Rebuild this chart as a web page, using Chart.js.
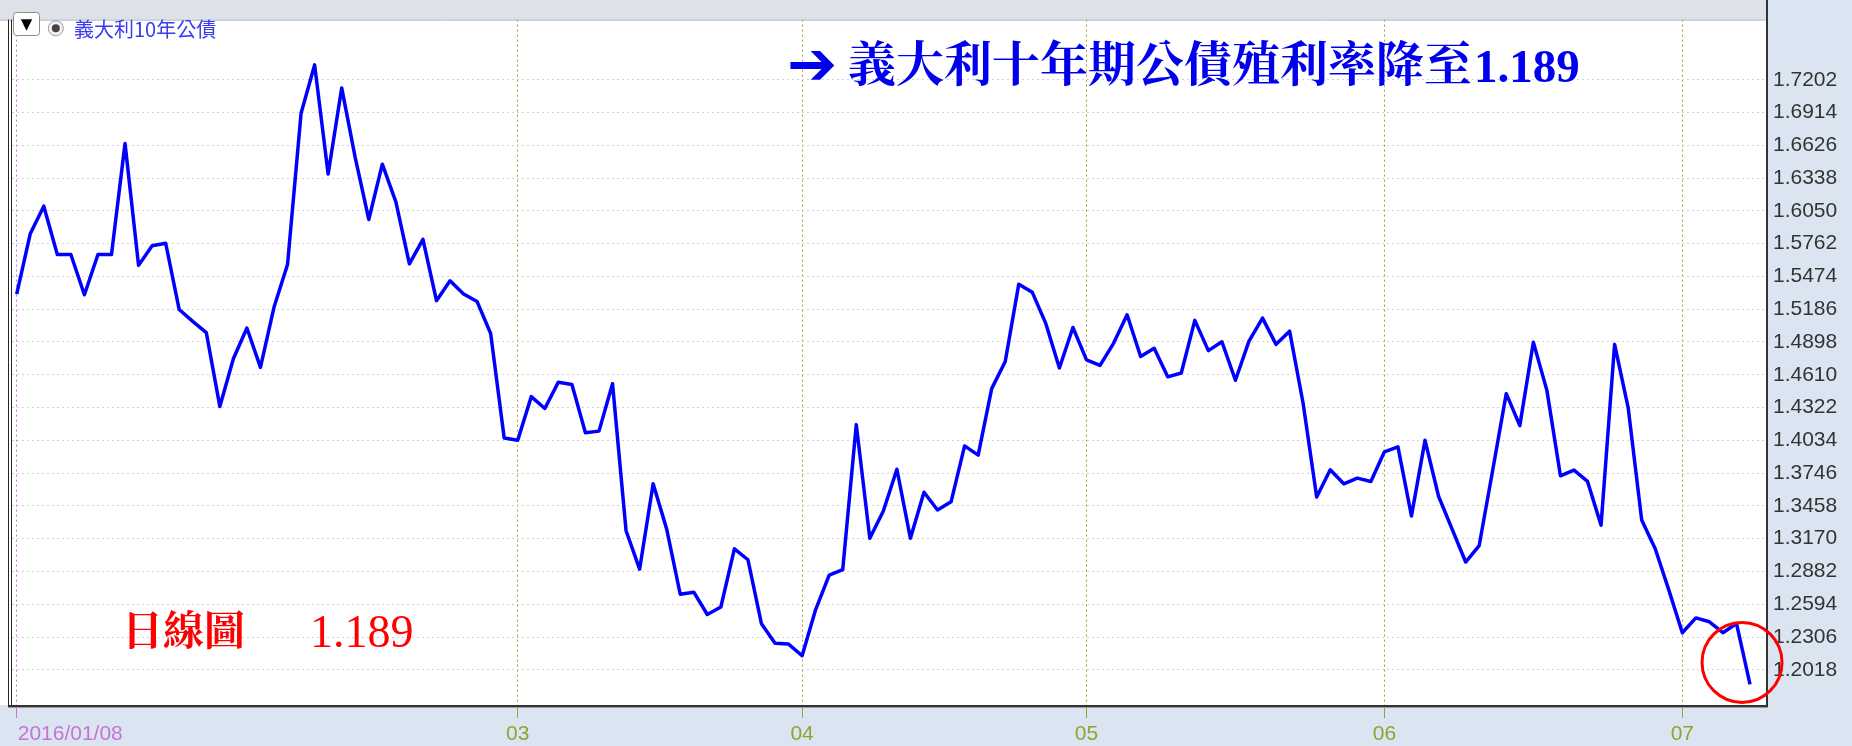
<!DOCTYPE html>
<html>
<head>
<meta charset="utf-8">
<title>義大利10年公債</title>
<script src="https://cdn.jsdelivr.net/npm/chart.js@4.4.1/dist/chart.umd.min.js"></script>
<style>
  html, body { margin: 0; padding: 0; background: #fff; }
  #wrap { width: 1852px; height: 746px; }
</style>
</head>
<body>
<div id="wrap"><canvas id="chart" width="1852" height="746"></canvas></div>
<script>
const seriesName = '義大利10年公債';
const lastYield = 1.189;

// daily closes, 2016/01/08 onwards
const yields = [
  1.5319, 1.5848, 1.6091, 1.5666, 1.5666, 1.5313, 1.5666, 1.5666, 1.6642, 1.5571,
  1.5744, 1.5766, 1.5183, 1.5079, 1.4981, 1.4332, 1.4750, 1.5021, 1.4675, 1.5203,
  1.5579, 1.6907, 1.7332, 1.6373, 1.7130, 1.6518, 1.5974, 1.6460, 1.6128, 1.5584,
  1.5800, 1.5261, 1.5435, 1.5319, 1.5253, 1.4973, 1.4054, 1.4034, 1.4418, 1.4314,
  1.4545, 1.4525, 1.4100, 1.4115, 1.4531, 1.3240, 1.2902, 1.3652, 1.3254, 1.2682,
  1.2700, 1.2504, 1.2570, 1.3081, 1.2985, 1.2422, 1.2252, 1.2244, 1.2142, 1.2547,
  1.2850, 1.2899, 1.4172, 1.3173, 1.3413, 1.3780, 1.3173, 1.3578, 1.3422, 1.3494,
  1.3985, 1.3904, 1.4488, 1.4727, 1.5406, 1.5334, 1.5059, 1.4670, 1.5025, 1.4741,
  1.4692, 1.4886, 1.5137, 1.4770, 1.4843, 1.4592, 1.4626, 1.5088, 1.4822, 1.4900,
  1.4562, 1.4906, 1.5108, 1.4877, 1.4993, 1.4358, 1.3537, 1.3775, 1.3652, 1.3702,
  1.3673, 1.3933, 1.3977, 1.3370, 1.4034, 1.3543, 1.3254, 1.2965, 1.3110, 1.3773,
  1.4444, 1.4163, 1.4895, 1.4473, 1.3722, 1.3773, 1.3673, 1.3289, 1.4877, 1.4322,
  1.3335, 1.3081, 1.2720, 1.2344, 1.2474, 1.2440, 1.2344, 1.2425, lastYield
];

// first trading day of each month (index into yields)
const monthTickIdx = [0, 37, 58, 79, 101, 123];
const monthTickLabels = ['2016/01/08', '03', '04', '05', '06', '07'];

const yTicks = [1.2018, 1.2306, 1.2594, 1.2882, 1.3170, 1.3458, 1.3746, 1.4034, 1.4322,
  1.4610, 1.4898, 1.5186, 1.5474, 1.5762, 1.6050, 1.6338, 1.6626, 1.6914, 1.7202];

const MAGENTA = '#c674d4';
const OLIVE = '#93a332';
const CJK = '"Noto Serif CJK TC", "Noto Sans CJK TC", "Noto Sans CJK SC", sans-serif';

const tickCol = c => (c.index === 0 ? MAGENTA : OLIVE);

const framePlugin = {
  id: 'frame',
  beforeDraw(chart) {
    const { ctx, chartArea: a, width, height } = chart;
    ctx.save();
    ctx.fillStyle = '#dbe5f1';
    ctx.fillRect(0, 0, width, height);
    ctx.fillStyle = '#dde2e9';
    ctx.fillRect(0, 0, a.right, a.top);
    ctx.fillStyle = '#ffffff';
    ctx.fillRect(0, a.top, a.right, a.bottom - a.top);
    ctx.restore();
  },
  afterDraw(chart) {
    const { ctx, chartArea: a } = chart;
    const xs = chart.scales.x, ys = chart.scales.y;
    ctx.save();

    // frame lines
    ctx.lineWidth = 1;
    ctx.strokeStyle = '#a9b3be';
    ctx.beginPath(); ctx.moveTo(0, a.top + 0.5); ctx.lineTo(a.right, a.top + 0.5); ctx.stroke();
    ctx.strokeStyle = '#222';
    ctx.beginPath();
    ctx.moveTo(8.5, a.top); ctx.lineTo(8.5, a.bottom);
    ctx.moveTo(11.5, a.top); ctx.lineTo(11.5, a.bottom);
    ctx.stroke();
    ctx.lineWidth = 2;
    ctx.strokeStyle = '#333';
    ctx.beginPath();
    ctx.moveTo(a.right + 1, 0); ctx.lineTo(a.right + 1, a.bottom + 2);
    ctx.moveTo(8, a.bottom + 1); ctx.lineTo(a.right + 2, a.bottom + 1);
    ctx.stroke();
    ctx.lineWidth = 1;
    ctx.strokeStyle = '#9a9a9a';
    ctx.beginPath(); ctx.moveTo(8, a.bottom + 2.5); ctx.lineTo(a.right + 2, a.bottom + 2.5); ctx.stroke();

    // month labels under the axis
    ctx.font = '21px "Liberation Sans", Arial, sans-serif';
    ctx.textBaseline = 'middle';
    monthTickIdx.forEach((v, i) => {
      const px = xs.getPixelForValue(v);
      ctx.fillStyle = i === 0 ? MAGENTA : OLIVE;
      ctx.textAlign = i === 0 ? 'left' : 'center';
      ctx.fillText(monthTickLabels[i], i === 0 ? px + 1 : px, 734);
    });

    // series selector in the top-left corner
    ctx.fillStyle = '#fff';
    ctx.strokeStyle = '#8c8c8c';
    ctx.lineWidth = 1;
    ctx.beginPath(); ctx.roundRect(13.5, 12.5, 26, 23, 3); ctx.fill(); ctx.stroke();
    ctx.fillStyle = '#000';
    ctx.textAlign = 'center';
    ctx.font = '15px "DejaVu Sans", sans-serif';
    ctx.fillText('▼', 26.5, 25);
    ctx.fillStyle = '#f2f2f2';
    ctx.strokeStyle = '#9c9c9c';
    ctx.beginPath(); ctx.arc(55.8, 28.3, 7.5, 0, Math.PI * 2); ctx.fill(); ctx.stroke();
    ctx.fillStyle = '#444';
    ctx.beginPath(); ctx.arc(55.8, 28.3, 4, 0, Math.PI * 2); ctx.fill();
    ctx.fillStyle = '#3b3bf0';
    ctx.textAlign = 'left';
    ctx.font = '20px "Noto Sans CJK TC", sans-serif';
    ctx.fillText(seriesName, 74, 29.5);

    // headline
    ctx.textBaseline = 'alphabetic';
    ctx.fillStyle = '#0000ee';
    ctx.font = 'bold 60px "DejaVu Sans", sans-serif';
    ctx.fillText('➔', 787, 84);
    const head = '義大利十年期公債殖利率降至';
    ctx.font = 'bold 48px ' + CJK;
    ctx.fillText(head, 848, 81);
    const hw = ctx.measureText(head).width;
    ctx.font = 'bold 47px "Liberation Serif", "Times New Roman", serif';
    ctx.fillText(lastYield.toFixed(3), 848 + hw + 2, 82);

    // daily-chart note
    ctx.fillStyle = '#ff0000';
    ctx.font = 'bold 41px ' + CJK;
    ctx.fillText('日線圖', 122, 645);
    ctx.font = '46px "Liberation Serif", "Times New Roman", serif';
    ctx.fillText(lastYield.toFixed(3), 310, 647);

    // ring round the latest close
    const lx = xs.getPixelForValue(yields.length - 1);
    const ly = ys.getPixelForValue(yields[yields.length - 1]);
    ctx.strokeStyle = '#ff0000';
    ctx.lineWidth = 3;
    ctx.beginPath(); ctx.arc(lx - 8, ly - 22, 40, 0, Math.PI * 2); ctx.stroke();

    ctx.restore();
  }
};

new Chart(document.getElementById('chart'), {
  type: 'line',
  data: {
    datasets: [{
      label: seriesName,
      data: yields.map((v, i) => ({ x: i, y: v })),
      borderColor: '#0000ff',
      borderWidth: 3.5,
      borderJoinStyle: 'round',
      pointRadius: 0,
      tension: 0,
      fill: false
    }]
  },
  options: {
    responsive: false,
    animation: false,
    layout: { padding: { left: 12, top: 10, right: 0, bottom: 0 } },
    plugins: { legend: { display: false }, tooltip: { enabled: false } },
    scales: {
      x: {
        type: 'linear',
        min: -0.347,
        max: 129.18,
        afterBuildTicks: s => { s.ticks = monthTickIdx.map(v => ({ value: v })); },
        afterFit: s => { s.height = 41; },
        grid: { color: tickCol, tickColor: tickCol, lineWidth: 1, drawTicks: true, tickLength: 13, tickBorderDash: [] },
        border: { display: false, dash: [2, 3] },
        ticks: { display: false }
      },
      y: {
        position: 'right',
        min: 1.1709,
        max: 1.7730,
        afterBuildTicks: s => { s.ticks = yTicks.map(v => ({ value: v })); },
        afterFit: s => { s.width = 86; },
        grid: { color: '#d2d2d2', lineWidth: 1, drawTicks: false },
        border: { display: false, dash: [2, 3] },
        ticks: {
          autoSkip: false,
          color: '#333',
          padding: 7,
          font: { family: '"Liberation Sans", Arial, sans-serif', size: 21 },
          callback: v => v.toFixed(4)
        }
      }
    }
  },
  plugins: [framePlugin]
});
</script>
</body>
</html>
